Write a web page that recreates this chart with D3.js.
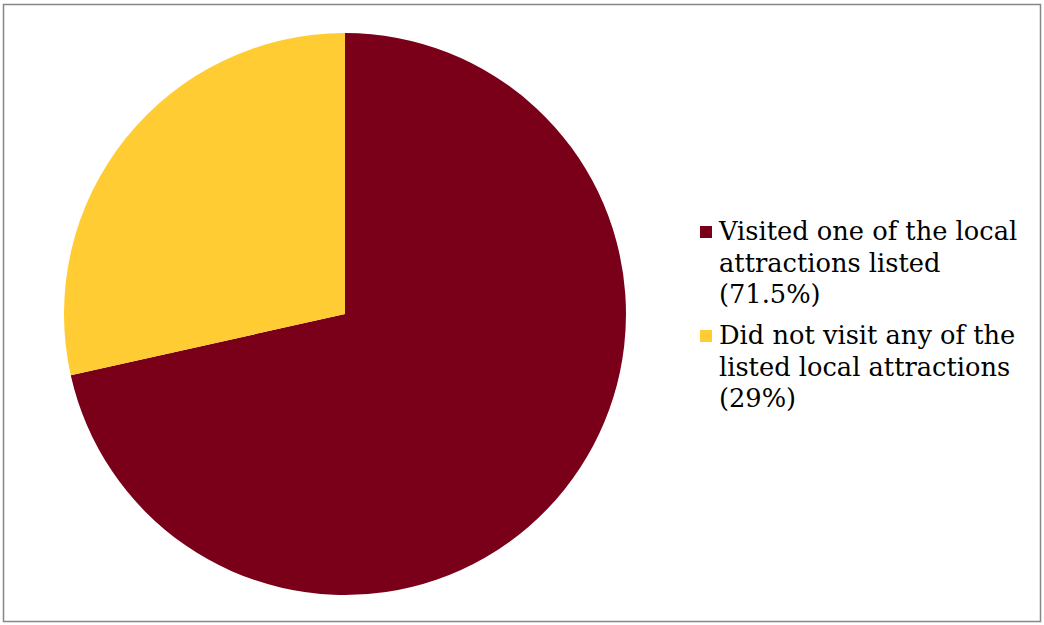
<!DOCTYPE html>
<html><head><meta charset="utf-8">
<script src="https://cdn.jsdelivr.net/npm/d3@7"></script>
<style>body{margin:0;background:#fff}</style>
</head><body>
<svg id="c" width="1044" height="625"></svg>
<script>
const categories = ["Visited one of the local attractions listed (71.5%)", "Did not visit any of the listed local attractions (29%)"];
const values = [71.5, 28.5];
const colors = ["#7A0019", "#FFCC33"];
const legendLines = [["Visited one of the local", "attractions listed", "(71.5%)"], ["Did not visit any of the", "listed local attractions", "(29%)"]];

const svg = d3.select("#c");
svg.append("rect").attr("x", 3.5).attr("y", 4.5).attr("width", 1037).attr("height", 617)
  .attr("fill", "#fff").attr("stroke", "#868686").attr("stroke-width", 1.5);

const cx = 345, cy = 314, r = 281;
const pie = d3.pie().sort(null).value(d => d);
const arc = d3.arc().innerRadius(0).outerRadius(r);
const g = svg.append("g").attr("transform", `translate(${cx},${cy})`);
g.selectAll("path").data(pie(values)).join("path")
  .attr("d", arc).attr("fill", (d, i) => colors[i]);

const color = d3.scaleOrdinal().domain(categories).range(colors);
const lg = svg.append("g").attr("font-family", "'DejaVu Serif', serif").attr("font-size", 25.7).attr("fill", "#000");
const starts = [240, 344];
categories.forEach((c, i) => {
  const y0 = starts[i];
  lg.append("rect").attr("x", 700).attr("y", y0 - 14).attr("width", 12).attr("height", 12).attr("fill", color(c));
  legendLines[i].forEach((t, j) => {
    lg.append("text").attr("x", 719).attr("y", y0 + j * 31.5).text(t);
  });
});
</script>
</body></html>
